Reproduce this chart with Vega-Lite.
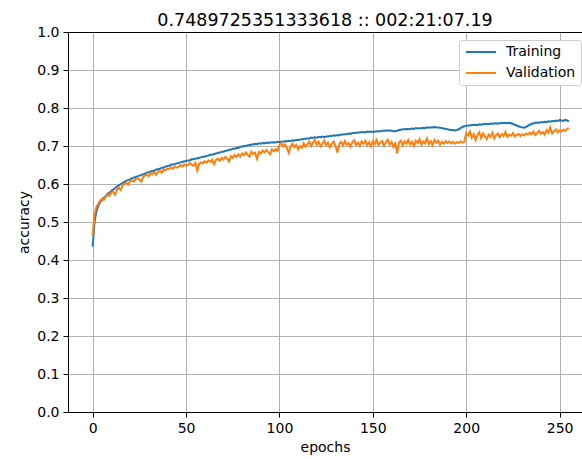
{
"$schema": "https://vega.github.io/schema/vega-lite/v6.json",
"width": 514, "height": 380,
"autosize": {"type": "none"},
"padding": {"left": 68, "top": 32, "right": 0, "bottom": 47},
"background": "white",
"title": {"text": "0.7489725351333618 :: 002:21:07.19", "font": "DejaVu Sans", "fontSize": 17.5, "fontWeight": "normal", "color": "black", "anchor": "middle", "frame": "group", "offset": -4},
"data": {"values": [
{"epoch":0,"Training":0.435,"Validation":0.465},{"epoch":1,"Training":0.500,"Validation":0.520},{"epoch":2,"Training":0.528,"Validation":0.540},{"epoch":3,"Training":0.543,"Validation":0.548},{"epoch":4,"Training":0.552,"Validation":0.556},{"epoch":5,"Training":0.558,"Validation":0.561},{"epoch":6,"Training":0.564,"Validation":0.558},{"epoch":7,"Training":0.568,"Validation":0.567},{"epoch":8,"Training":0.574,"Validation":0.571},{"epoch":9,"Training":0.577,"Validation":0.569},
{"epoch":10,"Training":0.582,"Validation":0.578},{"epoch":11,"Training":0.585,"Validation":0.580},{"epoch":12,"Training":0.589,"Validation":0.572},{"epoch":13,"Training":0.593,"Validation":0.585},{"epoch":14,"Training":0.596,"Validation":0.590},{"epoch":15,"Training":0.600,"Validation":0.584},{"epoch":16,"Training":0.602,"Validation":0.597},{"epoch":17,"Training":0.606,"Validation":0.600},{"epoch":18,"Training":0.608,"Validation":0.603},{"epoch":19,"Training":0.611,"Validation":0.598},
{"epoch":20,"Training":0.612,"Validation":0.608},{"epoch":21,"Training":0.615,"Validation":0.610},{"epoch":22,"Training":0.616,"Validation":0.606},{"epoch":23,"Training":0.619,"Validation":0.613},{"epoch":24,"Training":0.620,"Validation":0.616},{"epoch":25,"Training":0.622,"Validation":0.611},{"epoch":26,"Training":0.623,"Validation":0.606},{"epoch":27,"Training":0.626,"Validation":0.618},{"epoch":28,"Training":0.627,"Validation":0.622},{"epoch":29,"Training":0.630,"Validation":0.625},
{"epoch":30,"Training":0.631,"Validation":0.620},{"epoch":31,"Training":0.633,"Validation":0.628},{"epoch":32,"Training":0.634,"Validation":0.626},{"epoch":33,"Training":0.635,"Validation":0.631},{"epoch":34,"Training":0.638,"Validation":0.624},{"epoch":35,"Training":0.639,"Validation":0.633},{"epoch":36,"Training":0.640,"Validation":0.635},{"epoch":37,"Training":0.643,"Validation":0.630},{"epoch":38,"Training":0.643,"Validation":0.638},{"epoch":39,"Training":0.646,"Validation":0.636},
{"epoch":40,"Training":0.647,"Validation":0.641},{"epoch":41,"Training":0.648,"Validation":0.639},{"epoch":42,"Training":0.651,"Validation":0.644},{"epoch":43,"Training":0.651,"Validation":0.640},{"epoch":44,"Training":0.653,"Validation":0.647},{"epoch":45,"Training":0.654,"Validation":0.643},{"epoch":46,"Training":0.655,"Validation":0.645},{"epoch":47,"Training":0.657,"Validation":0.650},{"epoch":48,"Training":0.658,"Validation":0.646},{"epoch":49,"Training":0.660,"Validation":0.652},
{"epoch":50,"Training":0.660,"Validation":0.648},{"epoch":51,"Training":0.662,"Validation":0.650},{"epoch":52,"Training":0.662,"Validation":0.655},{"epoch":53,"Training":0.665,"Validation":0.651},{"epoch":54,"Training":0.665,"Validation":0.648},{"epoch":55,"Training":0.667,"Validation":0.656},{"epoch":56,"Training":0.667,"Validation":0.636},{"epoch":57,"Training":0.669,"Validation":0.653},{"epoch":58,"Training":0.670,"Validation":0.657},{"epoch":59,"Training":0.672,"Validation":0.654},
{"epoch":60,"Training":0.672,"Validation":0.660},{"epoch":61,"Training":0.674,"Validation":0.656},{"epoch":62,"Training":0.675,"Validation":0.662},{"epoch":63,"Training":0.677,"Validation":0.658},{"epoch":64,"Training":0.677,"Validation":0.664},{"epoch":65,"Training":0.679,"Validation":0.652},{"epoch":66,"Training":0.680,"Validation":0.663},{"epoch":67,"Training":0.682,"Validation":0.667},{"epoch":68,"Training":0.682,"Validation":0.661},{"epoch":69,"Training":0.685,"Validation":0.669},
{"epoch":70,"Training":0.685,"Validation":0.664},{"epoch":71,"Training":0.687,"Validation":0.671},{"epoch":72,"Training":0.688,"Validation":0.667},{"epoch":73,"Training":0.690,"Validation":0.659},{"epoch":74,"Training":0.690,"Validation":0.673},{"epoch":75,"Training":0.693,"Validation":0.669},{"epoch":76,"Training":0.693,"Validation":0.676},{"epoch":77,"Training":0.695,"Validation":0.671},{"epoch":78,"Training":0.695,"Validation":0.678},{"epoch":79,"Training":0.698,"Validation":0.672},
{"epoch":80,"Training":0.698,"Validation":0.680},{"epoch":81,"Training":0.700,"Validation":0.676},{"epoch":82,"Training":0.700,"Validation":0.683},{"epoch":83,"Training":0.702,"Validation":0.677},{"epoch":84,"Training":0.702,"Validation":0.672},{"epoch":85,"Training":0.704,"Validation":0.685},{"epoch":86,"Training":0.704,"Validation":0.679},{"epoch":87,"Training":0.706,"Validation":0.682},{"epoch":88,"Training":0.705,"Validation":0.666},{"epoch":89,"Training":0.707,"Validation":0.684},
{"epoch":90,"Training":0.706,"Validation":0.680},{"epoch":91,"Training":0.708,"Validation":0.688},{"epoch":92,"Training":0.707,"Validation":0.683},{"epoch":93,"Training":0.709,"Validation":0.690},{"epoch":94,"Training":0.708,"Validation":0.684},{"epoch":95,"Training":0.709,"Validation":0.678},{"epoch":96,"Training":0.709,"Validation":0.691},{"epoch":97,"Training":0.710,"Validation":0.686},{"epoch":98,"Training":0.709,"Validation":0.692},{"epoch":99,"Training":0.711,"Validation":0.687},
{"epoch":100,"Training":0.710,"Validation":0.703},{"epoch":101,"Training":0.712,"Validation":0.708},{"epoch":102,"Training":0.711,"Validation":0.699},{"epoch":103,"Training":0.713,"Validation":0.705},{"epoch":104,"Training":0.712,"Validation":0.694},{"epoch":105,"Training":0.714,"Validation":0.682},{"epoch":106,"Training":0.713,"Validation":0.699},{"epoch":107,"Training":0.715,"Validation":0.706},{"epoch":108,"Training":0.714,"Validation":0.697},{"epoch":109,"Training":0.716,"Validation":0.703},
{"epoch":110,"Training":0.716,"Validation":0.691},{"epoch":111,"Training":0.717,"Validation":0.700},{"epoch":112,"Training":0.717,"Validation":0.695},{"epoch":113,"Training":0.719,"Validation":0.707},{"epoch":114,"Training":0.719,"Validation":0.698},{"epoch":115,"Training":0.720,"Validation":0.704},{"epoch":116,"Training":0.720,"Validation":0.712},{"epoch":117,"Training":0.722,"Validation":0.700},{"epoch":118,"Training":0.721,"Validation":0.709},{"epoch":119,"Training":0.723,"Validation":0.716},
{"epoch":120,"Training":0.722,"Validation":0.703},{"epoch":121,"Training":0.724,"Validation":0.711},{"epoch":122,"Training":0.723,"Validation":0.699},{"epoch":123,"Training":0.725,"Validation":0.706},{"epoch":124,"Training":0.723,"Validation":0.714},{"epoch":125,"Training":0.725,"Validation":0.702},{"epoch":126,"Training":0.725,"Validation":0.709},{"epoch":127,"Training":0.726,"Validation":0.697},{"epoch":128,"Training":0.726,"Validation":0.706},{"epoch":129,"Training":0.728,"Validation":0.712},
{"epoch":130,"Training":0.727,"Validation":0.700},{"epoch":131,"Training":0.729,"Validation":0.683},{"epoch":132,"Training":0.728,"Validation":0.705},{"epoch":133,"Training":0.730,"Validation":0.711},{"epoch":134,"Training":0.730,"Validation":0.701},{"epoch":135,"Training":0.731,"Validation":0.713},{"epoch":136,"Training":0.731,"Validation":0.704},{"epoch":137,"Training":0.733,"Validation":0.708},{"epoch":138,"Training":0.732,"Validation":0.698},{"epoch":139,"Training":0.734,"Validation":0.710},
{"epoch":140,"Training":0.734,"Validation":0.715},{"epoch":141,"Training":0.735,"Validation":0.703},{"epoch":142,"Training":0.735,"Validation":0.709},{"epoch":143,"Training":0.736,"Validation":0.700},{"epoch":144,"Training":0.736,"Validation":0.712},{"epoch":145,"Training":0.737,"Validation":0.706},{"epoch":146,"Training":0.736,"Validation":0.714},{"epoch":147,"Training":0.738,"Validation":0.702},{"epoch":148,"Training":0.737,"Validation":0.710},{"epoch":149,"Training":0.738,"Validation":0.699},
{"epoch":150,"Training":0.737,"Validation":0.712},{"epoch":151,"Training":0.738,"Validation":0.705},{"epoch":152,"Training":0.738,"Validation":0.716},{"epoch":153,"Training":0.739,"Validation":0.703},{"epoch":154,"Training":0.739,"Validation":0.709},{"epoch":155,"Training":0.740,"Validation":0.713},{"epoch":156,"Training":0.740,"Validation":0.701},{"epoch":157,"Training":0.741,"Validation":0.710},{"epoch":158,"Training":0.741,"Validation":0.717},{"epoch":159,"Training":0.741,"Validation":0.704},
{"epoch":160,"Training":0.740,"Validation":0.711},{"epoch":161,"Training":0.739,"Validation":0.698},{"epoch":162,"Training":0.739,"Validation":0.707},{"epoch":163,"Training":0.740,"Validation":0.681},{"epoch":164,"Training":0.742,"Validation":0.709},{"epoch":165,"Training":0.743,"Validation":0.714},{"epoch":166,"Training":0.744,"Validation":0.702},{"epoch":167,"Training":0.744,"Validation":0.712},{"epoch":168,"Training":0.745,"Validation":0.706},{"epoch":169,"Training":0.744,"Validation":0.716},
{"epoch":170,"Training":0.745,"Validation":0.704},{"epoch":171,"Training":0.746,"Validation":0.711},{"epoch":172,"Training":0.745,"Validation":0.700},{"epoch":173,"Training":0.747,"Validation":0.714},{"epoch":174,"Training":0.746,"Validation":0.708},{"epoch":175,"Training":0.747,"Validation":0.718},{"epoch":176,"Training":0.747,"Validation":0.703},{"epoch":177,"Training":0.748,"Validation":0.712},{"epoch":178,"Training":0.747,"Validation":0.707},{"epoch":179,"Training":0.749,"Validation":0.720},
{"epoch":180,"Training":0.748,"Validation":0.705},{"epoch":181,"Training":0.749,"Validation":0.713},{"epoch":182,"Training":0.749,"Validation":0.702},{"epoch":183,"Training":0.750,"Validation":0.716},{"epoch":184,"Training":0.749,"Validation":0.709},{"epoch":185,"Training":0.749,"Validation":0.714},{"epoch":186,"Training":0.748,"Validation":0.703},{"epoch":187,"Training":0.747,"Validation":0.711},{"epoch":188,"Training":0.746,"Validation":0.706},{"epoch":189,"Training":0.745,"Validation":0.713},
{"epoch":190,"Training":0.744,"Validation":0.708},{"epoch":191,"Training":0.743,"Validation":0.712},{"epoch":192,"Training":0.742,"Validation":0.707},{"epoch":193,"Training":0.742,"Validation":0.711},{"epoch":194,"Training":0.741,"Validation":0.706},{"epoch":195,"Training":0.742,"Validation":0.710},{"epoch":196,"Training":0.744,"Validation":0.708},{"epoch":197,"Training":0.747,"Validation":0.712},{"epoch":198,"Training":0.750,"Validation":0.709},{"epoch":199,"Training":0.752,"Validation":0.711},
{"epoch":200,"Training":0.753,"Validation":0.734},{"epoch":201,"Training":0.754,"Validation":0.728},{"epoch":202,"Training":0.754,"Validation":0.738},{"epoch":203,"Training":0.755,"Validation":0.722},{"epoch":204,"Training":0.755,"Validation":0.731},{"epoch":205,"Training":0.756,"Validation":0.716},{"epoch":206,"Training":0.755,"Validation":0.729},{"epoch":207,"Training":0.757,"Validation":0.736},{"epoch":208,"Training":0.756,"Validation":0.721},{"epoch":209,"Training":0.758,"Validation":0.733},
{"epoch":210,"Training":0.757,"Validation":0.725},{"epoch":211,"Training":0.758,"Validation":0.718},{"epoch":212,"Training":0.758,"Validation":0.730},{"epoch":213,"Training":0.759,"Validation":0.724},{"epoch":214,"Training":0.758,"Validation":0.735},{"epoch":215,"Training":0.760,"Validation":0.720},{"epoch":216,"Training":0.759,"Validation":0.729},{"epoch":217,"Training":0.760,"Validation":0.733},{"epoch":218,"Training":0.759,"Validation":0.723},{"epoch":219,"Training":0.761,"Validation":0.731},
{"epoch":220,"Training":0.760,"Validation":0.726},{"epoch":221,"Training":0.761,"Validation":0.737},{"epoch":222,"Training":0.760,"Validation":0.724},{"epoch":223,"Training":0.761,"Validation":0.730},{"epoch":224,"Training":0.760,"Validation":0.727},{"epoch":225,"Training":0.758,"Validation":0.734},{"epoch":226,"Training":0.756,"Validation":0.725},{"epoch":227,"Training":0.754,"Validation":0.729},{"epoch":228,"Training":0.752,"Validation":0.732},{"epoch":229,"Training":0.750,"Validation":0.726},
{"epoch":230,"Training":0.749,"Validation":0.731},{"epoch":231,"Training":0.748,"Validation":0.728},{"epoch":232,"Training":0.750,"Validation":0.733},{"epoch":233,"Training":0.753,"Validation":0.730},{"epoch":234,"Training":0.756,"Validation":0.735},{"epoch":235,"Training":0.758,"Validation":0.731},{"epoch":236,"Training":0.760,"Validation":0.738},{"epoch":237,"Training":0.761,"Validation":0.729},{"epoch":238,"Training":0.762,"Validation":0.734},{"epoch":239,"Training":0.761,"Validation":0.740},
{"epoch":240,"Training":0.763,"Validation":0.732},{"epoch":241,"Training":0.762,"Validation":0.737},{"epoch":242,"Training":0.764,"Validation":0.730},{"epoch":243,"Training":0.763,"Validation":0.742},{"epoch":244,"Training":0.765,"Validation":0.735},{"epoch":245,"Training":0.764,"Validation":0.749},{"epoch":246,"Training":0.766,"Validation":0.733},{"epoch":247,"Training":0.765,"Validation":0.739},{"epoch":248,"Training":0.767,"Validation":0.744},{"epoch":249,"Training":0.766,"Validation":0.736},
{"epoch":250,"Training":0.768,"Validation":0.741},{"epoch":251,"Training":0.767,"Validation":0.738},{"epoch":252,"Training":0.766,"Validation":0.743},{"epoch":253,"Training":0.769,"Validation":0.740},{"epoch":254,"Training":0.767,"Validation":0.745},{"epoch":255,"Training":0.765,"Validation":0.747}
]},
"transform": [{"fold": ["Training", "Validation"], "as": ["series", "accuracy"]}],
"layer": [
 {"mark": {"type": "line", "strokeWidth": 2},
  "encoding": {
   "x": {"field": "epoch", "type": "quantitative", "scale": {"domain": [-13.2, 262], "nice": false, "zero": false},
         "axis": {"title": "epochs", "values": [0, 50, 100, 150, 200, 250], "grid": true, "labelFlush": false, "orient": "bottom"}},
   "y": {"field": "accuracy", "type": "quantitative", "scale": {"domain": [0, 1], "nice": false, "zero": false},
         "axis": {"title": "accuracy", "values": [0, 0.1, 0.2, 0.3, 0.4, 0.5, 0.6, 0.7, 0.8, 0.9, 1.0], "format": ".1f", "grid": true}},
   "color": {"field": "series", "type": "nominal", "scale": {"domain": ["Training", "Validation"], "range": ["#1f77b4", "#ff7f0e"]},
             "legend": {"orient": "none", "legendX": 391, "legendY": 8, "title": null, "symbolType": "M-2.5,0L2.5,0", "symbolSize": 144, "symbolStrokeWidth": 2, "symbolOffset": 10, "labelFontSize": 14, "labelFont": "DejaVu Sans", "labelColor": "black", "labelOffset": 18, "rowPadding": 7, "padding": 5, "fillColor": "white", "strokeColor": "#cccccc", "cornerRadius": 3}}
  }},
 {"mark": {"type": "point", "opacity": 0},
  "encoding": {
   "x": {"field": "epoch", "type": "quantitative", "scale": {"domain": [-13.2, 262], "nice": false, "zero": false},
         "axis": {"orient": "top", "labels": false, "ticks": false, "grid": false, "title": null, "domain": true}}
  }}
],
"resolve": {"axis": {"x": "independent"}},
"config": {
 "font": "DejaVu Sans",
 "view": {"stroke": null},
 "axis": {"domainColor": "black", "domainWidth": 1, "tickColor": "black", "tickSize": 5, "tickWidth": 1, "labelColor": "black", "labelFontSize": 14, "labelFont": "DejaVu Sans", "titleFont": "DejaVu Sans", "titleFontSize": 14, "titleFontWeight": "normal", "titleColor": "black", "gridColor": "#b0b0b0", "gridWidth": 1, "labelPadding": 4, "titlePadding": 5}
}
}
